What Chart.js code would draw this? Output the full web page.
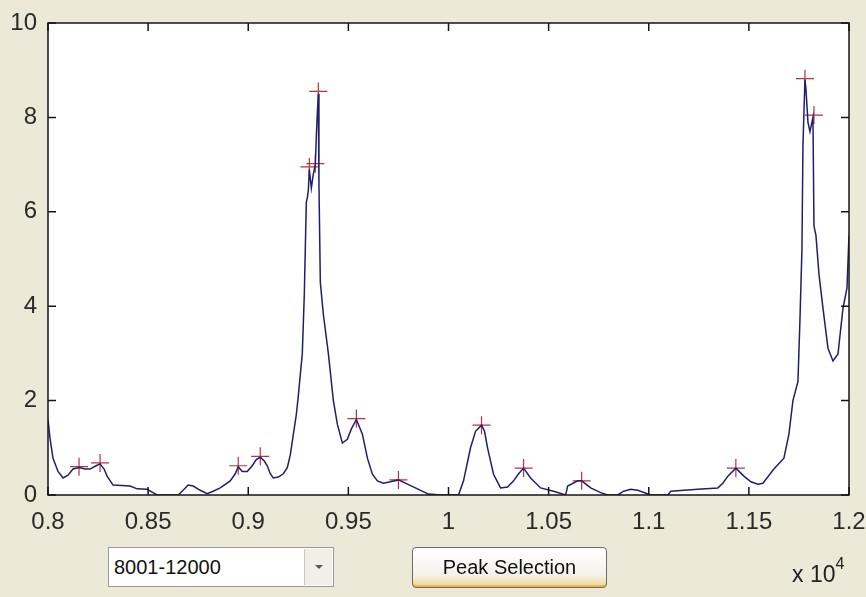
<!DOCTYPE html>
<html>
<head>
<meta charset="utf-8">
<script src="https://cdn.jsdelivr.net/npm/chart.js@4"></script>
<style>
  html, body { margin: 0; padding: 0; background: #ECE9D8; }
  #wrap { position: relative; width: 866px; height: 597px; overflow: hidden; }
  #plot { position: absolute; left: 0; top: 0; }
  .ui { position: absolute; font-family: "Liberation Sans", Arial, sans-serif; color: #111; }
  #range { left: 108px; top: 547px; width: 226px; height: 40px; background: #fff;
           border: 1px solid #9a9a9a; box-sizing: border-box; font-size: 20px; line-height: 38px; padding-left: 5px; }
  #range .arrow { position: absolute; right: 1px; top: 1px; width: 27px; height: 36px; background: #f2f0e6;
                  border-left: 1px solid #c8c8c8; }
  #range .arrow:after { content: ""; position: absolute; left: 10px; top: 16px; border-left: 4px solid transparent;
                        border-right: 4px solid transparent; border-top: 4px solid #555; }
  #peakBtn { left: 412px; top: 547px; width: 195px; height: 41px; box-sizing: border-box; border: 1px solid #6b6b6b;
             border-radius: 4px; font-size: 20px; line-height: 38px; text-align: center;
             background: linear-gradient(#ffffff, #f4f2ea 70%, #f3d488); box-shadow: inset 0 -2px 0 #e9b851; }
  #expo { left: 792px; top: 559px; font-size: 23px; color: #222; }
  #expo sup { font-size: 16px; position: relative; top: -4px; }
</style>
</head>
<body>
<div id="wrap">
  <canvas id="plot" width="866" height="597"></canvas>
  <div class="ui" id="range">8001-12000<div class="arrow"></div></div>
  <div class="ui" id="peakBtn">Peak Selection</div>
  <div class="ui" id="expo">x 10<sup>4</sup></div>
</div>
<script>
// sample index and amplitude of the signal
const sampleIdx = [8000, 8010, 8025, 8050, 8075, 8100, 8125, 8155, 8185, 8210, 8240, 8260, 8280, 8295, 8325,
  8410, 8445, 8495, 8520, 8545, 8650, 8675, 8700, 8725, 8760, 8795, 8825, 8860, 8910, 8935, 8950, 8970, 8995,
  9020, 9040, 9060, 9080, 9095, 9110, 9125, 9150, 9175, 9195, 9210, 9225, 9240, 9250, 9270, 9280, 9290, 9295,
  9300, 9305, 9315, 9325, 9335, 9340, 9345, 9350, 9353, 9360, 9375, 9400, 9420, 9425, 9445, 9470, 9495, 9515,
  9540, 9570, 9595, 9620, 9645, 9675, 9710, 9750, 9795, 9845, 9900, 9960, 10050, 10075, 10110, 10135, 10165,
  10180, 10195, 10225, 10260, 10295, 10325, 10350, 10375, 10410, 10460, 10525, 10585, 10595, 10645, 10665,
  10710, 10760, 10795, 10845, 10875, 10910, 10945, 11010, 11095, 11110, 11245, 11345, 11370, 11395, 11435,
  11475, 11510, 11545, 11570, 11625, 11675, 11700, 11720, 11745, 11755, 11765, 11770, 11780, 11785, 11795,
  11805, 11815, 11820, 11825, 11835, 11850, 11870, 11895, 11920, 11945, 11970, 11990, 12000];
const amplitude = [1.6, 1.2, 0.78, 0.5, 0.36, 0.42, 0.55, 0.58, 0.55, 0.55, 0.62, 0.66, 0.55, 0.4, 0.21,
  0.19, 0.13, 0.12, 0.06, 0, 0, 0.1, 0.21, 0.19, 0.1, 0.03, 0.08, 0.15, 0.3, 0.45, 0.6, 0.5, 0.5,
  0.62, 0.75, 0.8, 0.72, 0.62, 0.45, 0.36, 0.38, 0.45, 0.58, 0.85, 1.28, 1.7, 2.1, 3.0, 4.26, 6.2, 6.3,
  6.45, 6.9, 6.5, 6.8, 7.0, 7.6, 8.1, 8.5, 6.6, 4.5, 3.83, 3.0, 2.2, 2.0, 1.5, 1.1, 1.18, 1.4,
  1.6, 1.29, 0.78, 0.44, 0.3, 0.25, 0.28, 0.32, 0.23, 0.13, 0.02, 0, 0, 0.3, 1.0, 1.35, 1.48,
  1.35, 1.0, 0.44, 0.15, 0.17, 0.3, 0.45, 0.57, 0.36, 0.15, 0.08, 0, 0.19, 0.3, 0.3,
  0.15, 0.05, 0, 0, 0.08, 0.12, 0.1, 0, 0, 0.08, 0.12, 0.15, 0.25, 0.4, 0.57,
  0.4, 0.28, 0.23, 0.25, 0.55, 0.78, 1.29, 2.0, 2.4, 3.7, 5.2, 7.4, 8.8, 8.6, 7.9,
  7.7, 7.9, 8.0, 5.7, 5.5, 4.68, 3.96, 3.11, 2.84, 2.99, 3.96, 4.39, 5.5];

// detected peaks (red +)
const peakIdx = [8155, 8260, 8950, 9060, 9305, 9335, 9350, 9540, 9750, 10165, 10375, 10665, 11435, 11780, 11825];
const peakAmp = [0.6, 0.68, 0.62, 0.82, 6.95, 7.02, 8.55, 1.62, 0.32, 1.48, 0.57, 0.3, 0.57, 8.82, 8.05];

const xTicks = [8000, 8500, 9000, 9500, 10000, 10500, 11000, 11500, 12000];
const yTicks = [0, 2, 4, 6, 8, 10];

const signal = sampleIdx.map((v, i) => ({ x: v, y: amplitude[i] }));
const peaks = peakIdx.map((v, i) => ({ x: v, y: peakAmp[i] }));

// white axes box, ticks pointing inward like matlab
const matlabAxes = {
  id: 'matlabAxes',
  beforeDatasetsDraw(chart) {
    const { ctx, chartArea: a } = chart;
    ctx.save();
    ctx.fillStyle = '#fff';
    ctx.fillRect(a.left, a.top, a.width, a.height);
    ctx.restore();
  },
  afterDatasetsDraw(chart) {
    const { ctx, chartArea: a, scales: { x, y } } = chart;
    ctx.save();
    ctx.strokeStyle = '#151515';
    ctx.lineWidth = 1.5;
    ctx.beginPath();
    xTicks.forEach(t => {
      const px = x.getPixelForValue(t);
      ctx.moveTo(px, a.bottom); ctx.lineTo(px, a.bottom - 8);
      ctx.moveTo(px, a.top); ctx.lineTo(px, a.top + 8);
    });
    yTicks.forEach(t => {
      const py = y.getPixelForValue(t);
      ctx.moveTo(a.left, py); ctx.lineTo(a.left + 8, py);
      ctx.moveTo(a.right, py); ctx.lineTo(a.right - 8, py);
    });
    ctx.stroke();
    ctx.strokeRect(a.left, a.top, a.width, a.height);
    ctx.restore();
  }
};

new Chart(document.getElementById('plot'), {
  type: 'scatter',
  data: {
    datasets: [{
      data: signal,
      showLine: true,
      borderColor: '#1f1f6b',
      borderWidth: 1.5,
      pointRadius: 0,
      tension: 0
    }, {
      data: peaks,
      showLine: false,
      pointStyle: 'cross',
      pointRadius: 9,
      borderColor: '#c0303f',
      borderWidth: 1.2
    }]
  },
  options: {
    responsive: false,
    animation: false,
    devicePixelRatio: 1,
    layout: { padding: { left: 0, top: 23, right: 17, bottom: 0 } },
    plugins: { legend: { display: false }, tooltip: { enabled: false } },
    scales: {
      x: {
        type: 'linear',
        min: 8000,
        max: 12000,
        afterBuildTicks: s => { s.ticks = xTicks.map(v => ({ value: v })); },
        afterFit: s => { s.height = 102; s.paddingLeft = 0; s.paddingRight = 0; },
        grid: { display: false, drawTicks: false },
        border: { display: false },
        ticks: {
          autoSkip: false,
          maxRotation: 0,
          padding: 13,
          color: '#2a2a2a',
          font: { family: 'Liberation Sans', size: 24 },
          callback: v => String(+(v / 10000).toFixed(2))
        }
      },
      y: {
        min: 0,
        max: 10,
        afterBuildTicks: s => { s.ticks = yTicks.map(v => ({ value: v })); },
        afterFit: s => { s.width = 48; s.paddingTop = 0; s.paddingBottom = 0; },
        grid: { display: false, drawTicks: false },
        border: { display: false },
        ticks: {
          padding: 11,
          color: '#2a2a2a',
          font: { family: 'Liberation Sans', size: 24 }
        }
      }
    }
  },
  plugins: [matlabAxes]
});
</script>
</body>
</html>
